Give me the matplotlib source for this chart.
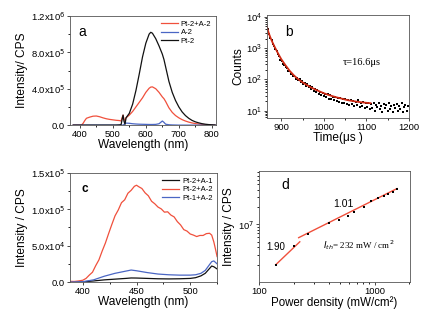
import matplotlib
matplotlib.use("Agg")
import matplotlib.pyplot as plt
from matplotlib.ticker import MultipleLocator, NullFormatter
import numpy as np

plt.rcParams["font.family"] = ["Liberation Sans", "DejaVu Sans"]
plt.rcParams["font.size"] = 6.8
plt.rcParams["axes.linewidth"] = 0.6
plt.rcParams["axes.edgecolor"] = "#555555"
plt.rcParams["xtick.major.size"] = 2
plt.rcParams["ytick.major.size"] = 2
plt.rcParams["xtick.minor.size"] = 1.2
plt.rcParams["ytick.minor.size"] = 1.2
plt.rcParams["xtick.major.width"] = 0.5
plt.rcParams["ytick.major.width"] = 0.5
plt.rcParams["xtick.major.pad"] = 1.5
plt.rcParams["ytick.major.pad"] = 1.5

RED = "#f0503c"
BLUE = "#4a66c4"
BLACK = "#111111"
SERIF = ["Liberation Serif", "DejaVu Serif"]
LAB = 8.6

# ---- panel a : emission spectra
a_wl = [380, 400, 405, 410, 415, 420, 430, 440, 450, 460, 470, 480, 490, 500, 510, 520, 525,
        528, 531, 534, 537, 540, 550, 560, 570, 580, 590, 600, 610, 615, 620, 630, 640, 650,
        655, 660, 670, 680, 690, 700, 710, 720, 730, 740, 750, 760, 770, 780, 790, 800, 810]
a_pt2a2 = [0, 0, 1e3, 2e4, 5e4, 7.5e4, 8.8e4, 9.8e4, 1.0e5, 9.2e4, 8e4, 7e4, 6.3e4, 5.8e4, 5.3e4, 5e4, 4.5e4,
           8e4, 1.1e5, 6e4, 5e4, 8e4, 1.1e5, 1.5e5, 2e5, 2.5e5, 3.0e5, 3.6e5, 4.05e5, 4.18e5, 4.2e5, 4.0e5, 3.6e5, 3.1e5,
           2.9e5, 2.6e5, 1.9e5, 1.4e5, 1.05e5, 8e4, 6e4, 4.5e4, 3.3e4, 2.4e4, 1.7e4, 1.2e4, 8e3, 5e3, 3e3, 1.5e3, 0]
a_a2 = [0, 0, 0, 0, 0, 0, 0, 0, 0, 0, 0, 0, 0, 0, 0, 0, 0,
        0, 0, 8e3, 1.5e4, 2.2e4, 2e4, 1.5e4, 1.2e4, 1e4, 9e3, 8e3, 7e3, 7e3, 7e3, 8e3, 1.5e4, 4.5e4,
        3e4, 1e4, 4e3, 2e3, 1e3, 0, 0, 0, 0, 0, 0, 0, 0, 0, 0, 0, 0]
a_pt2 = [0, 0, 0, 0, 0, 0, 0, 0, 0, 0, 0, 0, 0, 0, 0, 2e3, 5e3,
         6e4, 1.1e5, 4e4, 1e4, 8e4, 1.3e5, 2.3e5, 3.8e5, 5.6e5, 7.5e5, 9.0e5, 1.0e6, 1.02e6, 1.01e6, 9.5e5, 8.7e5, 7.8e5,
         7.2e5, 6.4e5, 4.8e5, 3.6e5, 2.7e5, 2.0e5, 1.45e5, 1.05e5, 7.5e4, 5.2e4, 3.6e4, 2.5e4, 1.6e4, 1.0e4, 6e3, 3e3, 1e3]

# ---- panel b : decay
b_counts = [9800, 6500, 4000, 2900, 2150, 1800, 1380, 1200, 920, 830, 640, 560, 420, 390, 305, 290,
            240, 230, 185, 182, 150, 152, 128, 130, 105, 112, 92, 101, 80, 88, 72, 79, 62, 70, 55, 61,
            48, 55, 43, 49, 39, 45, 34, 40, 31, 37, 29, 35, 27, 33, 24, 31, 23, 28, 21, 27, 20, 25, 19,
            26, 18, 23, 17, 24, 16, 22, 15, 21, 16, 20, 14, 19, 15, 21, 13, 18, 14, 19, 12, 17, 13, 18,
            11, 16, 12, 17, 10, 15, 13, 18, 11, 14, 9, 16, 12, 15, 10, 17, 11, 14, 9, 15, 12, 16, 10, 14,
            11, 17, 9, 13, 15, 10, 14]
b_time = 862 + 3 * np.arange(len(b_counts))
b_fit_t = [862, 865, 868, 871, 874, 877, 880, 885, 890, 895, 900, 910, 920, 930, 940, 950, 960, 970,
           980, 990, 1000, 1010, 1020, 1030, 1040, 1050, 1060, 1070, 1080, 1090, 1100, 1110]
b_fit_c = [8000, 5600, 3900, 2900, 2250, 1800, 1450, 1050, 780, 580, 440, 280, 185, 132, 100, 80, 66, 55,
           47, 41, 36, 32, 29, 26.5, 24.5, 22.5, 21, 20, 19, 18.3, 17.7, 17.2]

# ---- panel c : upconversion spectra
c_wl = [388, 392, 396, 400, 403, 406, 409, 412, 415, 418, 421, 424, 427, 430, 433, 436, 439, 442, 445,
        448, 450, 452, 455, 458, 461, 464, 467, 470, 473, 476, 479, 482, 485, 488, 491, 494, 497, 500,
        503, 506, 509, 512, 515, 518, 520, 522, 524, 525]
c_pt2a2 = [1000, 800, 1500, 2500, 5000, 9500, 13500, 22500, 30500, 42500, 53500, 66500, 79000, 91000,
           99000, 109000, 113000, 122000, 126000, 131500, 133000, 131000, 128500, 122500, 118500, 111000,
           107500, 103000, 100500, 96000, 96500, 92000, 89500, 83000, 78500, 72000, 70000, 66000, 64500,
           62500, 64000, 64000, 66500, 67000, 64500, 55000, 42000, 35000]
c_wl_s = [388, 400, 410, 420, 430, 440, 445, 450, 460, 470, 480, 490, 500, 505, 510, 514, 517, 520, 522, 525]
c_pt2a1 = [0, 300, 1500, 3000, 4000, 5000, 5600, 5500, 5000, 4500, 4300, 4500, 5000, 6000, 8500, 12000,
           17000, 22000, 21000, 18000]
c_pt1a2 = [0, 500, 3000, 8000, 12000, 15000, 16500, 15500, 13000, 11000, 10000, 9500, 9500, 10000, 12000,
           16000, 22000, 28000, 29000, 25000]

# ---- panel d : power dependence
d_power = [139, 200, 264, 401, 490, 589, 659, 804, 934, 1069, 1197, 1304, 1441, 1559]
d_int = [1.99e6, 4.2e6, 6.8e6, 1.08e7, 1.2e7, 1.42e7, 1.62e7, 2.03e7, 2.56e7, 2.86e7, 3.17e7, 3.4e7, 3.73e7, 4.2e7]
d_fit1_x = [139, 225]
d_fit1_y = [1.99e6, 5.0e6]
d_fit2_x = [220, 1560]
d_fit2_y = [5.9e6, 4.2e7]

fig = plt.figure(figsize=(4.29, 3.12), dpi=100)

# a
ax = fig.add_axes([0.163, 0.599, 0.340, 0.350])
ax.plot(a_wl, a_pt2a2, color=RED, lw=0.9, label="Pt-2+A-2")
ax.plot(a_wl, a_a2, color=BLUE, lw=0.9, label="A-2")
ax.plot(a_wl, a_pt2, color=BLACK, lw=0.9, label="Pt-2")
ax.set_xlim(370, 812)
ax.set_ylim(0, 1.2e6)
ax.xaxis.set_major_locator(MultipleLocator(100))
ax.xaxis.set_minor_locator(MultipleLocator(50))
ax.set_yticks([0, 4e5, 8e5, 1.2e6])
ax.set_yticklabels(["0.0", r"4.0x10$^5$", r"8.0x10$^5$", r"1.2x10$^6$"])
ax.yaxis.set_minor_locator(MultipleLocator(2e5))
ax.set_xlabel("Wavelength (nm)", fontsize=LAB, labelpad=0)
ax.set_ylabel("Intensity/ CPS", fontsize=LAB, labelpad=2)
ax.text(0.055, 0.85, "a", transform=ax.transAxes, fontsize=10, va="center")
ax.legend(loc="upper right", fontsize=5.5, frameon=False, handlelength=2.2, labelspacing=0.15,
          borderaxespad=0.2, handletextpad=0.4)

# b
ax = fig.add_axes([0.622, 0.622, 0.331, 0.330])
ax.scatter(b_time, b_counts, s=3, color="black", marker="s", lw=0)
ax.plot(b_fit_t, b_fit_c, color="#d02a14", lw=1.3)
ax.set_yscale("log")
ax.set_xlim(866, 1200)
ax.set_ylim(5.8, 1.15e4)
ax.xaxis.set_major_locator(MultipleLocator(100))
ax.xaxis.set_minor_locator(MultipleLocator(50))
ax.yaxis.set_minor_formatter(NullFormatter())
ax.set_xlabel("Time(\u03bcs )", fontsize=LAB, labelpad=0)
ax.set_ylabel("Counts", fontsize=LAB, labelpad=1)
ax.text(0.13, 0.83, "b", transform=ax.transAxes, fontsize=10, va="center")
ax.text(0.535, 0.54, "\u03c4=16.6\u03bcs", transform=ax.transAxes, fontsize=7.5,
        family=SERIF, va="center")

# c
ax = fig.add_axes([0.163, 0.096, 0.343, 0.350])
ax.plot(c_wl_s, c_pt2a1, color=BLACK, lw=0.9, label="Pt-2+A-1")
ax.plot(c_wl, c_pt2a2, color=RED, lw=0.9, label="Pt-2+A-2")
ax.plot(c_wl_s, c_pt1a2, color=BLUE, lw=0.9, label="Pt-1+A-2")
ax.set_xlim(388, 525)
ax.set_ylim(0, 1.5e5)
ax.xaxis.set_major_locator(MultipleLocator(50))
ax.xaxis.set_minor_locator(MultipleLocator(25))
ax.set_yticks([0, 5e4, 1e5, 1.5e5])
ax.set_yticklabels(["0.0", r"5.0x10$^4$", r"1.0x10$^5$", r"1.5x10$^5$"])
ax.yaxis.set_minor_locator(MultipleLocator(2.5e4))
ax.set_xlabel("Wavelength (nm)", fontsize=LAB, labelpad=0)
ax.set_ylabel("Intensity / CPS", fontsize=LAB, labelpad=2)
ax.text(0.08, 0.85, "c", transform=ax.transAxes, fontsize=8.5, fontweight="bold", va="center")
ax.legend(loc="upper right", fontsize=5.5, frameon=False, handlelength=2.2, labelspacing=0.15,
          borderaxespad=0.2, handletextpad=0.4)

# d
ax = fig.add_axes([0.604, 0.096, 0.352, 0.356])
ax.plot(d_fit1_x, d_fit1_y, color=RED, lw=1.0)
ax.plot(d_fit2_x, d_fit2_y, color=RED, lw=1.0)
ax.scatter(d_power, d_int, s=4, color="black", marker="s", lw=0, zorder=3)
ax.set_xscale("log")
ax.set_yscale("log")
ax.set_xlim(100, 2030)
ax.set_ylim(1.0e6, 8.5e7)
ax.set_xticks([100, 1000])
ax.set_xticklabels(["100", "1000"])
ax.set_yticks([1e7])
ax.set_yticklabels([r"10$^7$"])
ax.xaxis.set_minor_formatter(NullFormatter())
ax.yaxis.set_minor_formatter(NullFormatter())
ax.set_xlabel("Power density (mW/cm\u00b2)", fontsize=8.3, labelpad=0)
ax.set_ylabel("Intensity / CPS", fontsize=LAB, labelpad=2)
ax.text(0.15, 0.87, "d", transform=ax.transAxes, fontsize=10, va="center")
ax.text(0.05, 0.32, "1.90", transform=ax.transAxes, fontsize=7, va="center")
ax.text(0.49, 0.70, "1.01", transform=ax.transAxes, fontsize=7.5, va="center")
ax.text(0.42, 0.33, r"$I_{th}$= 232 mW / cm$^2$", transform=ax.transAxes, fontsize=6.5,
        family=SERIF, va="center")

fig.savefig("out.png", dpi=100)
